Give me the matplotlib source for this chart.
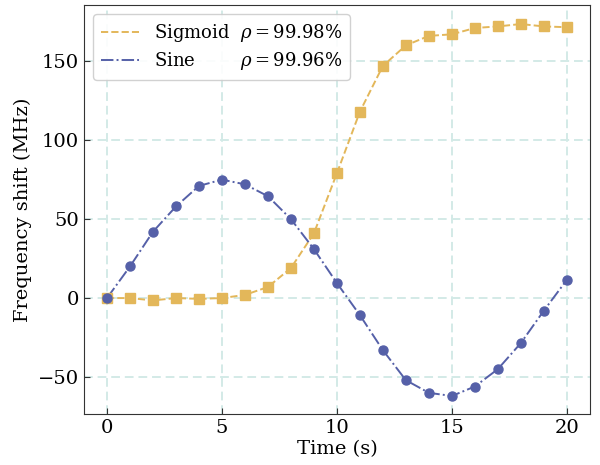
import matplotlib
matplotlib.use("Agg")
import matplotlib.pyplot as plt

plt.rcParams['font.family'] = ['DejaVu Serif']
plt.rcParams['mathtext.fontset'] = 'dejavuserif'

time = list(range(21))
sigmoid = [0, 0, -1.5, 0, -0.5, 0, 2, 7, 19, 41, 79, 118, 147, 160, 166, 167, 171, 172, 173.5, 172, 171.5]
sine = [0, 20, 42, 58, 71, 75, 72, 64.5, 50, 31, 9.5, -10.8, -33, -52, -60, -62, -56, -45, -28.5, -8, 11.5]
labels = ["Sigmoid", "Sine"]
rhos = ["99.98", "99.96"]

c_sig = '#E3B75A'
c_sin = '#5560A8'

fig = plt.figure(figsize=(6, 4.65), dpi=100)
ax = fig.add_axes([0.14, 0.1097, 0.843, 0.879])

ax.grid(True, color='#d3eae7', linestyle=(0, (4.5, 2.5)), linewidth=1.4)
ax.set_axisbelow(True)

ax.plot(time, sigmoid, linestyle='--', color=c_sig, linewidth=1.4,
        label=f"{labels[0]}  $\\rho = {rhos[0]}\\%$")
ax.plot(time, sine, linestyle='-.', color=c_sin, linewidth=1.4,
        label=f"{labels[1]}        $\\rho = {rhos[1]}\\%$")
ax.plot(time, sigmoid, linestyle='none', marker='s', markersize=6.5, color=c_sig)
ax.plot(time, sine, linestyle='none', marker='o', markersize=6.5, color=c_sin)

ax.set_xlim(-1, 21)
ax.set_ylim(-73.4, 185.4)
ax.set_xticks([0, 5, 10, 15, 20])
ax.set_yticks([-50, 0, 50, 100, 150])
ax.tick_params(direction='in', labelsize=14, length=4, color='#333333')
for s in ax.spines.values():
    s.set_color('#333333')
ax.set_xlabel('Time (s)', fontsize=14, labelpad=2)
ax.set_ylabel('Frequency shift (MHz)', fontsize=14, labelpad=4)

leg = ax.legend(loc='upper left', fontsize=13, handlelength=2.1, handletextpad=0.8,
                labelspacing=0.3, borderpad=0.45, framealpha=0.9)

fig.savefig('out.png', dpi=100)
